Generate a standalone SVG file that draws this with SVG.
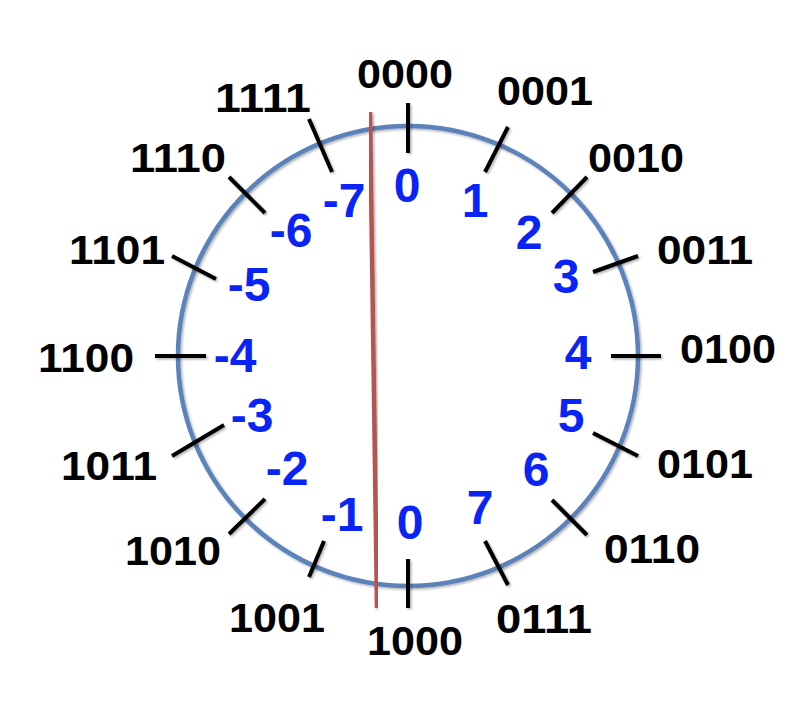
<svg xmlns="http://www.w3.org/2000/svg" width="808" height="702" viewBox="0 0 808 702">
<style>
.bin{font-family:"Liberation Sans",Arial,sans-serif;font-weight:bold;font-size:41px;fill:#000;text-anchor:middle}
.dec{font-family:"Liberation Sans",Arial,sans-serif;font-weight:bold;font-size:48px;fill:#0A24F5;text-anchor:middle}
.tick{stroke:#000;stroke-width:4;fill:none}
</style>
<defs>
<filter id="sh" x="-10%" y="-10%" width="120%" height="120%">
<feDropShadow dx="1.5" dy="1.5" stdDeviation="1.2" flood-color="#000" flood-opacity="0.3"/>
</filter>
</defs>
<rect width="808" height="702" fill="#fff"/>
<g id="ring" filter="url(#sh)">
<circle cx="408" cy="356" r="230" fill="none" stroke="#5B82BA" stroke-width="4.5"/>
</g>
<g id="connectors" filter="url(#sh)">
<line class="tick" x1="408" y1="103" x2="408" y2="153"/>
<line class="tick" x1="508" y1="127" x2="485" y2="172"/>
<line class="tick" x1="587" y1="177" x2="552" y2="213"/>
<line class="tick" x1="638" y1="256" x2="593" y2="272"/>
<line class="tick" x1="611" y1="356" x2="661" y2="356"/>
<line class="tick" x1="593" y1="433" x2="638" y2="456"/>
<line class="tick" x1="552" y1="500" x2="587" y2="535"/>
<line class="tick" x1="485" y1="541" x2="508" y2="585"/>
<line class="tick" x1="408" y1="559" x2="408" y2="608"/>
<line class="tick" x1="324" y1="541" x2="309" y2="577"/>
<line class="tick" x1="265" y1="499" x2="229" y2="534"/>
<line class="tick" x1="172" y1="456" x2="224" y2="425"/>
<line class="tick" x1="155" y1="356" x2="206" y2="356"/>
<line class="tick" x1="172" y1="256" x2="216" y2="279"/>
<line class="tick" x1="229" y1="177" x2="265" y2="213"/>
<line class="tick" x1="309" y1="119" x2="332" y2="172"/>
</g>
<g id="divider" filter="url(#sh)">
<line x1="370" y1="112" x2="377" y2="608" stroke="#B5544F" stroke-width="4.5"/>
</g>
<g id="binary-labels">
<text class="bin" x="405" y="88" textLength="96" lengthAdjust="spacingAndGlyphs">0000</text>
<text class="bin" x="545" y="105" textLength="96" lengthAdjust="spacingAndGlyphs">0001</text>
<text class="bin" x="636" y="172" textLength="96" lengthAdjust="spacingAndGlyphs">0010</text>
<text class="bin" x="705" y="264" textLength="96" lengthAdjust="spacingAndGlyphs">0011</text>
<text class="bin" x="728" y="363" textLength="96" lengthAdjust="spacingAndGlyphs">0100</text>
<text class="bin" x="705" y="478" textLength="96" lengthAdjust="spacingAndGlyphs">0101</text>
<text class="bin" x="652" y="563" textLength="96" lengthAdjust="spacingAndGlyphs">0110</text>
<text class="bin" x="544" y="633" textLength="96" lengthAdjust="spacingAndGlyphs">0111</text>
<text class="bin" x="415" y="655" textLength="96" lengthAdjust="spacingAndGlyphs">1000</text>
<text class="bin" x="277" y="632" textLength="96" lengthAdjust="spacingAndGlyphs">1001</text>
<text class="bin" x="173" y="565" textLength="96" lengthAdjust="spacingAndGlyphs">1010</text>
<text class="bin" x="109" y="480" textLength="96" lengthAdjust="spacingAndGlyphs">1011</text>
<text class="bin" x="86" y="372" textLength="96" lengthAdjust="spacingAndGlyphs">1100</text>
<text class="bin" x="117" y="264" textLength="96" lengthAdjust="spacingAndGlyphs">1101</text>
<text class="bin" x="178" y="172" textLength="96" lengthAdjust="spacingAndGlyphs">1110</text>
<text class="bin" x="263" y="112" textLength="96" lengthAdjust="spacingAndGlyphs">1111</text>
</g>
<g id="decimal-labels">
<text class="dec" x="407" y="202">0</text>
<text class="dec" x="475" y="217">1</text>
<text class="dec" x="529" y="249">2</text>
<text class="dec" x="566" y="293">3</text>
<text class="dec" x="578" y="369">4</text>
<text class="dec" x="571" y="432">5</text>
<text class="dec" x="536" y="486">6</text>
<text class="dec" x="480" y="524">7</text>
<text class="dec" x="410" y="539">0</text>
<text class="dec" x="342" y="531">-1</text>
<text class="dec" x="287" y="485">-2</text>
<text class="dec" x="252" y="432">-3</text>
<text class="dec" x="235" y="372">-4</text>
<text class="dec" x="249" y="301">-5</text>
<text class="dec" x="291" y="247">-6</text>
<text class="dec" x="344" y="217">-7</text>
</g>
</svg>
